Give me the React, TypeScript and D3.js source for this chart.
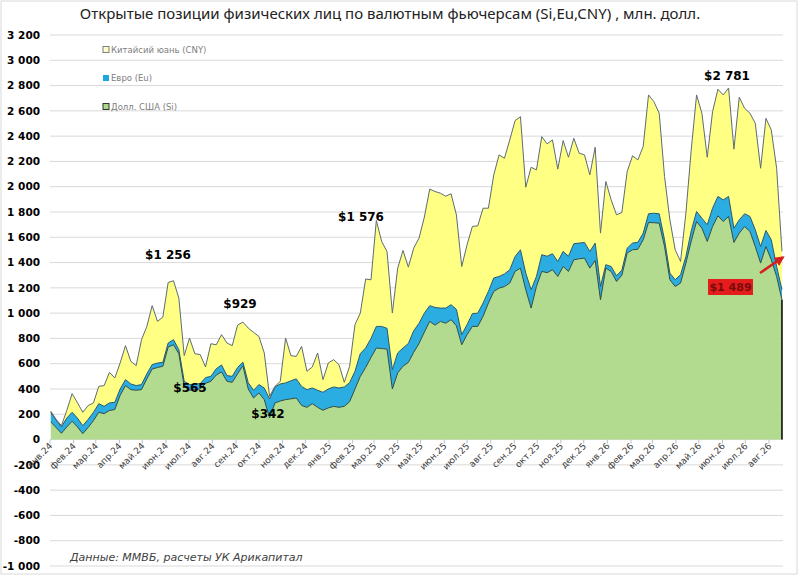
import React from "react";
import * as d3 from "d3";

const siValues = [
  140, 95, 50, 100, 145, 100, 47, 95, 150, 216, 205, 230, 237, 350, 427, 395, 390, 395, 480, 558,
  570, 580, 732, 750, 679, 421, 390, 395, 400, 445, 461, 510, 535, 461, 453, 520, 585, 400, 329, 369,
  316, 171, 290, 305, 316, 322, 329, 270, 255, 284, 255, 232, 250, 263, 255, 263, 300, 400, 500, 570,
  650, 724, 720, 716, 400, 527, 580, 610, 690, 760, 850, 935, 905, 935, 920, 948, 900, 750, 830, 895,
  895, 975, 1080, 1172, 1198, 1210, 1238, 1330, 1356, 1185, 1040, 1211, 1330, 1320, 1343, 1290, 1369, 1330, 1422, 1430,
  1435, 1356, 1417, 1106, 1356, 1330, 1251, 1300, 1475, 1501, 1505, 1580, 1717, 1715, 1712, 1527, 1264, 1211, 1238, 1396,
  1570, 1725, 1672, 1567, 1685, 1770, 1725, 1765, 1559, 1633, 1685, 1646, 1527, 1396, 1527, 1422, 1290, 1106,
];
const euValues = [
  75, 60, 50, 70, 71, 70, 63, 65, 65, 68, 58, 60, 58, 50, 47, 45, 37, 40, 40, 35,
  35, 31, 32, 40, 32, 40, 45, 45, 42, 45, 39, 50, 55, 45, 47, 50, 27, 50, 61, 66,
  92, 150, 126, 135, 132, 143, 151, 150, 140, 124, 135, 142, 150, 153, 153, 153, 150, 140, 180, 155,
  150, 171, 175, 164, 153, 158, 144, 150, 170, 160, 150, 124, 140, 105, 120, 119, 130, 80, 79, 101,
  105, 105, 92, 106, 92, 100, 105, 118, 145, 132, 145, 79, 132, 130, 127, 119, 119, 120, 127, 124,
  124, 132, 137, 105, 27, 39, 45, 40, 39, 53, 55, 53, 69, 75, 74, 53, 53, 53, 66, 52,
  80, 79, 79, 132, 145, 153, 171, 158, 113, 105, 101, 119, 132, 131, 127, 158, 79, 79,
];
const cnyValues = [
  10, 5, 10, 60, 147, 122, 106, 109, 75, 137, 164, 242, 192, 206, 269, 179, 158, 355, 375, 466,
  330, 358, 479, 466, 408, 203, 368, 239, 230, 84, 258, 190, 240, 258, 243, 335, 317, 432, 458, 381,
  277, 21, 5, 20, 355, 199, 178, 317, 145, 166, 295, 100, 206, 216, 185, 37, 130, 369, 321, 545,
  464, 838, 672, 608, 448, 671, 772, 604, 654, 673, 760, 922, 917, 909, 885, 877, 748, 539, 632, 690,
  690, 750, 658, 816, 962, 915, 1027, 1075, 1053, 679, 969, 843, 934, 889, 900, 730, 877, 783, 834, 711,
  693, 606, 758, 422, 658, 527, 482, 456, 606, 690, 652, 685, 940, 883, 795, 501, 421, 237, 105, 343,
  641, 922, 830, 534, 764, 848, 830, 858, 625, 970, 834, 816, 843, 619, 887, 869, 777, 304,
];

const monthNames = ["янв", "фев", "мар", "апр", "май", "июн", "июл", "авг", "сен", "окт", "ноя", "дек"];
const yTicks = [-1000, -800, -600, -400, -200, 0, 200, 400, 600, 800, 1000, 1200, 1400, 1600, 1800, 2000, 2200, 2400, 2600, 2800, 3000, 3200];

const seriesKeys = ["si", "eu", "cny"];
const seriesNames = { cny: "Китайсий юань (CNY)", eu: "Евро (Eu)", si: "Долл. США (Si)" };
const seriesFill = { si: "#acd887", eu: "#1ca7df", cny: "#ffff7a" };
const seriesStroke = { si: "#2f4d45", eu: "#24566e", cny: "#5d6b73" };

// peak / trough call-outs as drawn on the source, with their label spot
const callouts = [
  ["$1 256", 168, 259],
  ["$929", 240, 308],
  ["$565", 190, 392],
  ["$342", 268, 418],
  ["$1 576", 361, 221],
  ["$2 781", 727, 80],
];

const firstWeek = new Date(2024, 0, 2);
const weeks = siValues.map((_, i) => d3.timeDay.offset(firstWeek, i * 7));
const table = weeks.map((date, i) => ({ date, si: siValues[i], eu: euValues[i], cny: cnyValues[i] }));

const W = 800;
const H = 576;
const left = 50;
const right = 783;

const x = d3.scaleTime().domain([new Date(2024, 0, 1), new Date(2026, 7, 1)]).range([left, 769]);
const y = d3.scaleLinear().domain([-1000, 3200]).range([566, 35]);

const stacked = d3.stack().keys(seriesKeys)(table);
const area = d3
  .area()
  .x((d) => x(d.data.date))
  .y0((d) => y(d[0]))
  .y1((d) => y(d[1]));
const topLine = d3
  .line()
  .x((d) => x(d.data.date))
  .y((d) => y(d[1]));

const months = d3.timeMonth.range(new Date(2024, 0, 1), new Date(2026, 7, 2));
const fmt = (v) => d3.format(",")(v).replace(/,/g, " ").replace("−", "-");

export default function App() {
  const last = table.length - 1;
  const total = (i) => siValues[i] + euValues[i] + cnyValues[i];
  return (
    <svg width={W} height={H} style={{ position: "absolute", left: 0, top: 0, background: "#fff" }} fontFamily="'DejaVu Sans', sans-serif">
      <rect x={1} y={1} width={796} height={573} fill="#fff" stroke="#d9d9d9" />
      <text x={390} y={19} textAnchor="middle" fontSize={15} fill="#222" fontFamily="'Noto Sans', sans-serif">
        Открытые позиции физических лиц по валютным фьючерсам (Si,Eu,CNY) , млн. долл.
      </text>

      {yTicks.map((t) => (
        <g key={t}>
          <line x1={left} x2={right} y1={y(t)} y2={y(t)} stroke="#d9d9d9" strokeWidth={1} />
          <text x={40} y={y(t)} dy="0.35em" textAnchor="end" fontSize={10.5} fontWeight="bold" fill="#000">
            {fmt(t)}
          </text>
        </g>
      ))}

      {stacked.map((s) => (
        <path key={s.key} d={area(s)} fill={seriesFill[s.key]} fillOpacity={0.93} />
      ))}
      {stacked.map((s) => (
        <path key={s.key + "l"} d={topLine(s)} fill="none" stroke={seriesStroke[s.key]} strokeWidth={1} />
      ))}
      <line
        x1={x(weeks[last])}
        x2={x(weeks[last])}
        y1={y(siValues[last])}
        y2={y(0)}
        stroke="#000"
        strokeWidth={1.5}
      />

      {months.map((m) => (
        <g key={+m}>
          <line x1={x(m)} x2={x(m)} y1={y(0)} y2={y(0) + 4} stroke="#bfbfbf" />
          <text
            transform={`translate(${x(m) + 3},${y(0) + 7}) rotate(-45)`}
            textAnchor="end"
            fontSize={9}
            fill="#404040"
          >
            {monthNames[m.getMonth()] + "." + String(m.getFullYear()).slice(2)}
          </text>
        </g>
      ))}

      {["cny", "eu", "si"].map((k, i) => (
        <g key={k} transform={`translate(103,${50 + i * 28.5})`}>
          <rect
            x={0}
            y={-3.5}
            width={6}
            height={6}
            fill={k === "cny" ? "#fdfdc8" : seriesFill[k]}
            stroke={k === "eu" ? "none" : k === "si" ? "#333" : "#7f7f7f"}
          />
          <text x={8} y={0} dy="0.35em" fontSize={8.5} fill="#808080">
            {seriesNames[k]}
          </text>
        </g>
      ))}

      {callouts.map(([label, cx, cy]) => (
        <text key={label} x={cx} y={cy} textAnchor="middle" fontSize={12} fontWeight="bold" fill="#000">
          {label}
        </text>
      ))}

      <rect x={708} y={279} width={45} height={16} fill="#e51c1c" />
      <text x={730.5} y={287} dy="0.35em" textAnchor="middle" fontSize={11} fontWeight="bold" fill="#7a0b0b">
        {"$1 489"}
      </text>
      <defs>
        <marker id="arr" viewBox="0 0 10 10" refX={8} refY={5} markerWidth={4} markerHeight={4} orient="auto">
          <path d="M0,0L10,5L0,10z" fill="#d42020" />
        </marker>
      </defs>
      <line
        x1={760}
        y1={273}
        x2={x(weeks[last]) + 1}
        y2={y(total(last)) + 6}
        stroke="#d42020"
        strokeWidth={2.5}
        markerEnd="url(#arr)"
      />

      <text x={70} y={561} fontSize={11} fontStyle="italic" fill="#404040">
        Данные: ММВБ, расчеты УК Арикапитал
      </text>
    </svg>
  );
}
